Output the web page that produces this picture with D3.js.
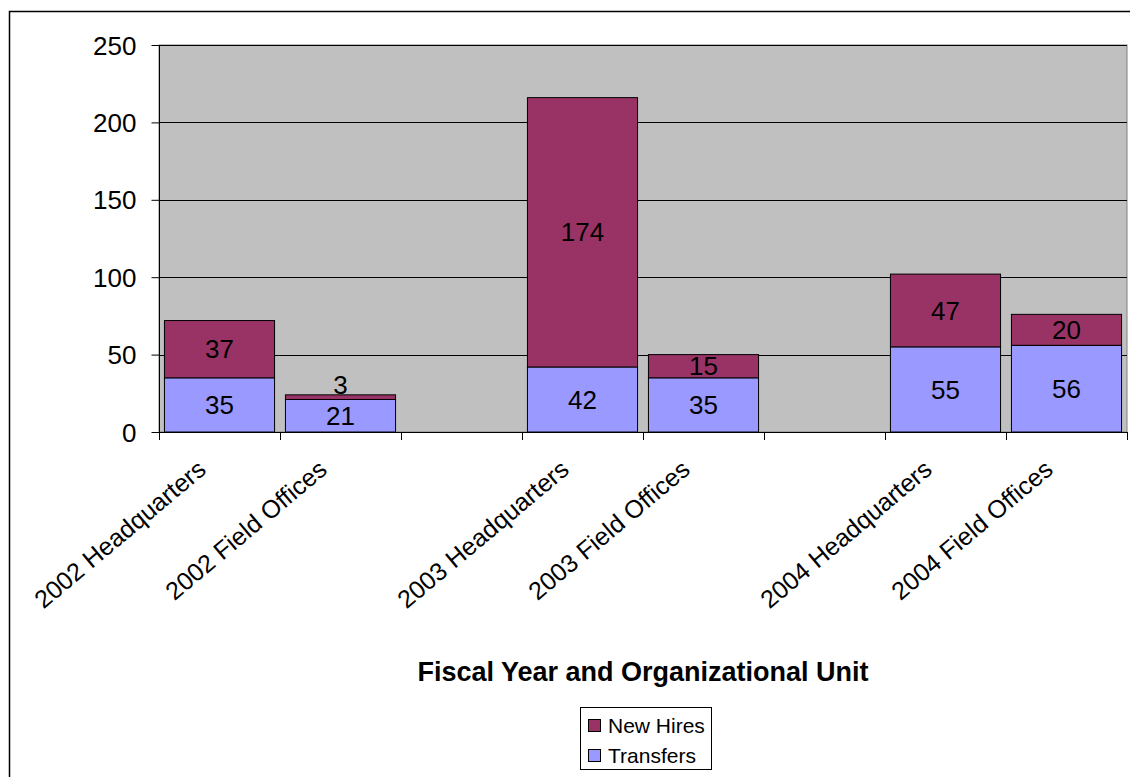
<!DOCTYPE html>
<html><head><meta charset="utf-8">
<script src="https://cdn.jsdelivr.net/npm/d3@7"></script>
<style>body{margin:0;background:#fff}svg{display:block}</style>
</head><body>
<svg id="c" width="1130" height="777"></svg>
<script>
const categories = ["2002 Headquarters","2002 Field Offices","","2003 Headquarters","2003 Field Offices","","2004 Headquarters","2004 Field Offices"];
const transfers = [35,21,null,42,35,null,55,56];
const newHires  = [37,3,null,174,15,null,47,20];
const seriesNames = ["New Hires","Transfers"];
const yTicks = [0,50,100,150,200,250];

const svg = d3.select("#c");
const font = "Arial, 'Liberation Sans', sans-serif";
const L = 159, R = 1127, T = 45, B = 432;

svg.append("rect").attr("x",9.5).attr("y",11.5).attr("width",1140).attr("height",800)
  .attr("fill","#fff").attr("stroke","#000").attr("stroke-width",1.5);

const x = d3.scaleBand().domain(d3.range(categories.length)).range([L,R]).paddingInner(0.09).paddingOuter(0.045);
const slot = d3.scaleBand().domain(d3.range(categories.length)).range([L,R]);
const y = d3.scaleLinear().domain([0,250]).range([B,T]);

svg.append("rect").attr("x",L).attr("y",T).attr("width",R-L).attr("height",B-T)
  .attr("fill","#C0C0C0").attr("stroke","#808080").attr("stroke-width",1);

// gridlines
svg.append("g").selectAll("line").data(yTicks.filter(d=>d>0)).join("line")
  .attr("x1",L).attr("x2",R).attr("y1",d=>Math.round(y(d))+0.5).attr("y2",d=>Math.round(y(d))+0.5)
  .attr("stroke","#000").attr("stroke-width",1);

// y axis
const yAxis = d3.axisLeft(y).tickValues(yTicks).tickSize(8).tickPadding(15);
const gy = svg.append("g").attr("transform",`translate(${L+0.5},0)`).call(yAxis);
gy.select(".domain").attr("stroke","#000").attr("d",`M0,${T}V${B}`);
gy.selectAll(".tick line").attr("stroke","#000");
gy.selectAll("text").attr("font-family",font).attr("font-size",26).attr("fill","#000").attr("dy","0.35em");

// x axis
svg.append("line").attr("x1",L).attr("x2",R).attr("y1",B+0.5).attr("y2",B+0.5).attr("stroke","#000");
const xt = d3.range(categories.length+1).map(i => L + i*slot.step());
svg.append("g").selectAll("line").data(xt).join("line")
  .attr("x1",d=>Math.round(d)+0.5).attr("x2",d=>Math.round(d)+0.5).attr("y1",B).attr("y2",B+8)
  .attr("stroke","#000");

// bars
const idx = d3.range(categories.length).filter(i=>transfers[i]!=null);
const g = svg.append("g");
idx.forEach(i=>{
  const x0 = x(i), w = x.bandwidth();
  const t = transfers[i], n = newHires[i];
  g.append("rect").attr("x",x0).attr("y",y(t)).attr("width",w).attr("height",y(0)-y(t))
    .attr("fill","#9999FF").attr("stroke","#000").attr("stroke-width",1);
  g.append("rect").attr("x",x0).attr("y",y(t+n)).attr("width",w).attr("height",y(t)-y(t+n))
    .attr("fill","#993366").attr("stroke","#000").attr("stroke-width",1);
  const cx = x0 + w/2;
  g.append("text").attr("x",cx).attr("y",(y(0)+y(t))/2).attr("dy","0.35em")
    .attr("text-anchor","middle").attr("font-family",font).attr("font-size",26).text(t);
  const segH = y(t)-y(t+n);
  const ly = segH < 14 ? y(t+n) - 10 : (y(t)+y(t+n))/2;
  g.append("text").attr("x",cx).attr("y",ly).attr("dy","0.35em")
    .attr("text-anchor","middle").attr("font-family",font).attr("font-size",26).text(n);
});

// category labels
idx.forEach(i=>{
  const cx = slot(i) + slot.bandwidth()/2;
  svg.append("text").attr("transform",`translate(${cx-12},${B+40}) rotate(-40)`)
    .attr("text-anchor","end").attr("font-family",font).attr("font-size",25)
    .text(categories[i]);
});

// axis title
svg.append("text").attr("x",643).attr("y",672).attr("dy","0.35em").attr("text-anchor","middle")
  .attr("font-family",font).attr("font-size",27).attr("font-weight","bold").text("Fiscal Year and Organizational Unit");

// legend
const lg = svg.append("g");
lg.append("rect").attr("x",580.5).attr("y",707.5).attr("width",131).attr("height",62).attr("fill","#fff").attr("stroke","#000");
const colors = {"New Hires":"#993366","Transfers":"#9999FF"};
seriesNames.forEach((s,k)=>{
  lg.append("rect").attr("x",588.5).attr("y",719.5+k*30).attr("width",12).attr("height",12)
    .attr("fill",colors[s]).attr("stroke","#000");
  lg.append("text").attr("x",608).attr("y",725.5+k*30).attr("dy","0.35em")
    .attr("font-family",font).attr("font-size",21).text(s);
});
</script>
</body></html>
